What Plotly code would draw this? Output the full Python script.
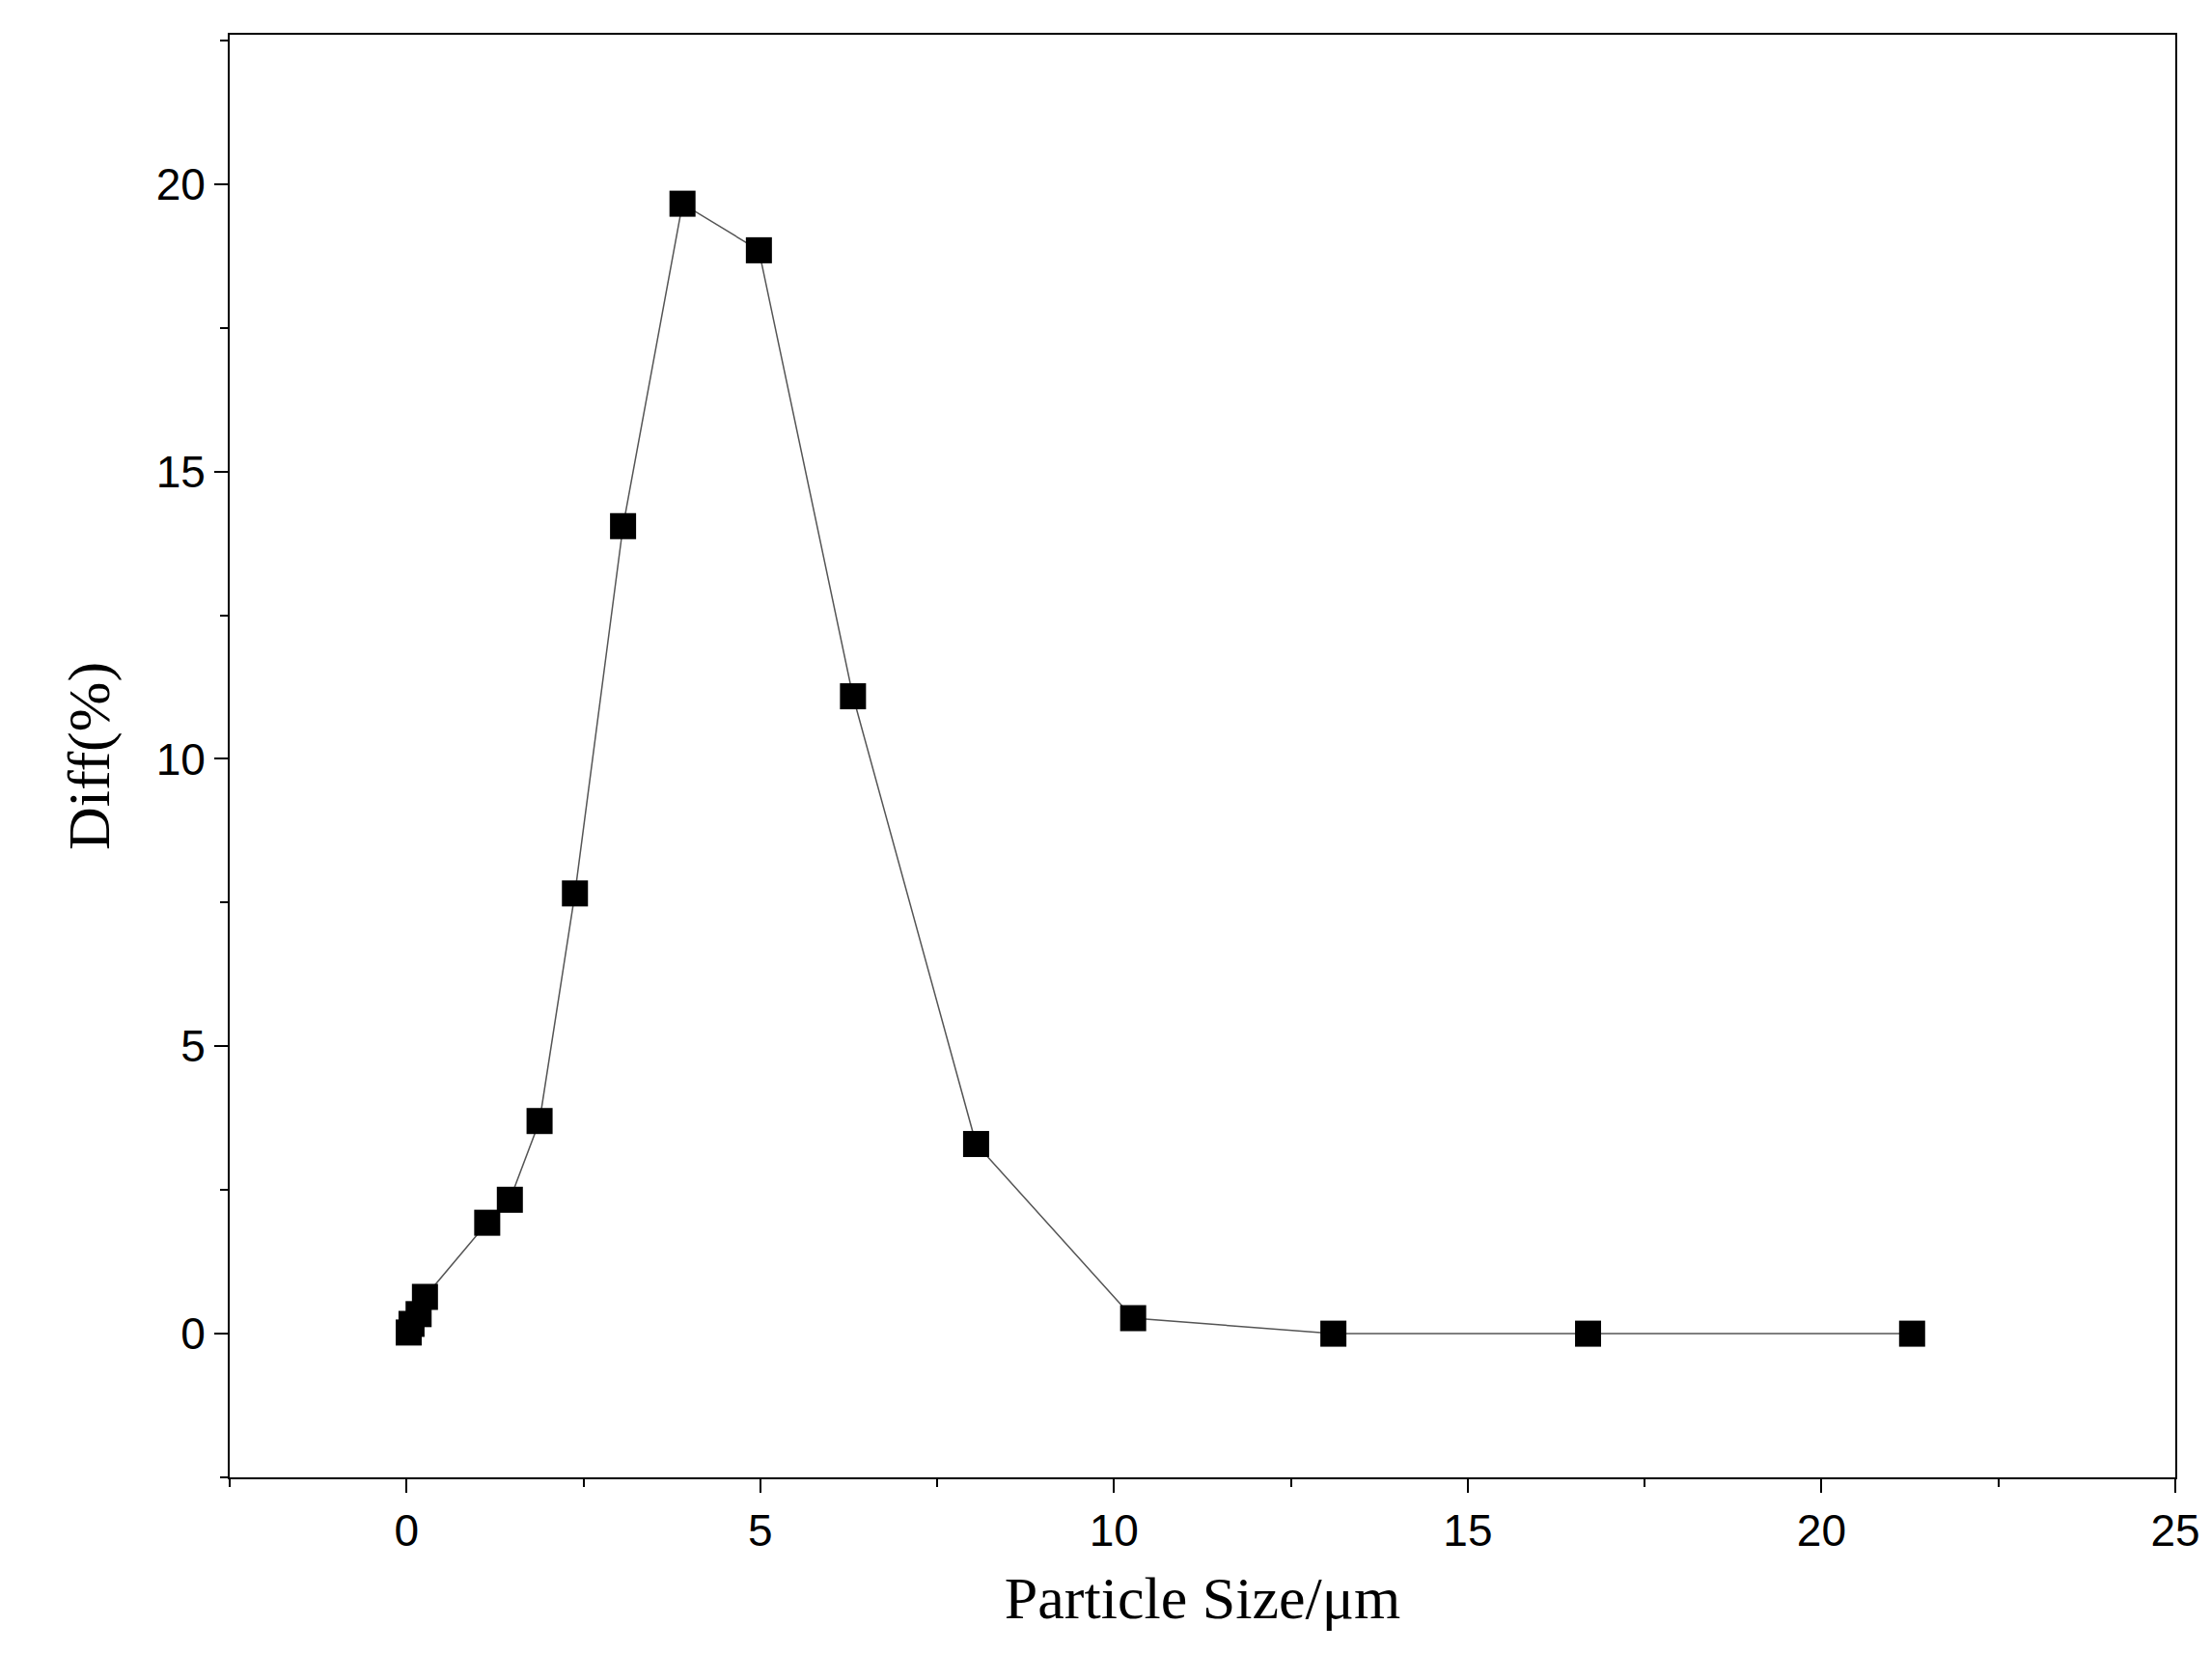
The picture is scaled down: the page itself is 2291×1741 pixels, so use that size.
import plotly.graph_objects as go

# particle size distribution
size_um = [0.03, 0.07, 0.17, 0.26, 1.14, 1.46, 1.88, 2.38, 3.06, 3.9, 4.98, 6.31, 8.05, 10.27, 13.1, 16.7, 21.28]
diff_pct = [0.02, 0.17, 0.34, 0.64, 1.93, 2.33, 3.7, 7.66, 14.05, 19.66, 18.85, 11.09, 3.3, 0.27, 0.0, 0.0, 0.0]

fig = go.Figure(go.Scatter(
    x=size_um, y=diff_pct, mode='lines+markers',
    line=dict(color='#555555', width=1.5),
    marker=dict(symbol='square', size=27, color='black'),
    showlegend=False,
))

axis_common = dict(
    showgrid=False, zeroline=False, showline=True, linecolor='black', linewidth=2,
    mirror=True, ticks='outside', ticklen=14, tickwidth=2, tickcolor='black',
    tickfont=dict(family='Liberation Sans, Arial', size=46, color='black'),
    minor=dict(ticks='outside', ticklen=8, tickwidth=2, tickcolor='black', dtick=2.5),
)

fig.update_xaxes(range=[-2.5, 25], dtick=5, tick0=0,
                 title=dict(text='Particle Size/μm', standoff=22,
                            font=dict(family='Liberation Serif, Times New Roman', size=62, color='black')),
                 **axis_common)
fig.update_yaxes(range=[-2.5, 22.6], dtick=5, tick0=0,
                 title=dict(text='Diff(%)', standoff=28,
                            font=dict(family='Liberation Serif, Times New Roman', size=62, color='black')),
                 **axis_common)

fig.update_layout(
    width=2291, height=1741,
    margin=dict(l=230, r=45, t=28, b=218),
    plot_bgcolor='white', paper_bgcolor='white',
)

fig.write_html("out.html")
